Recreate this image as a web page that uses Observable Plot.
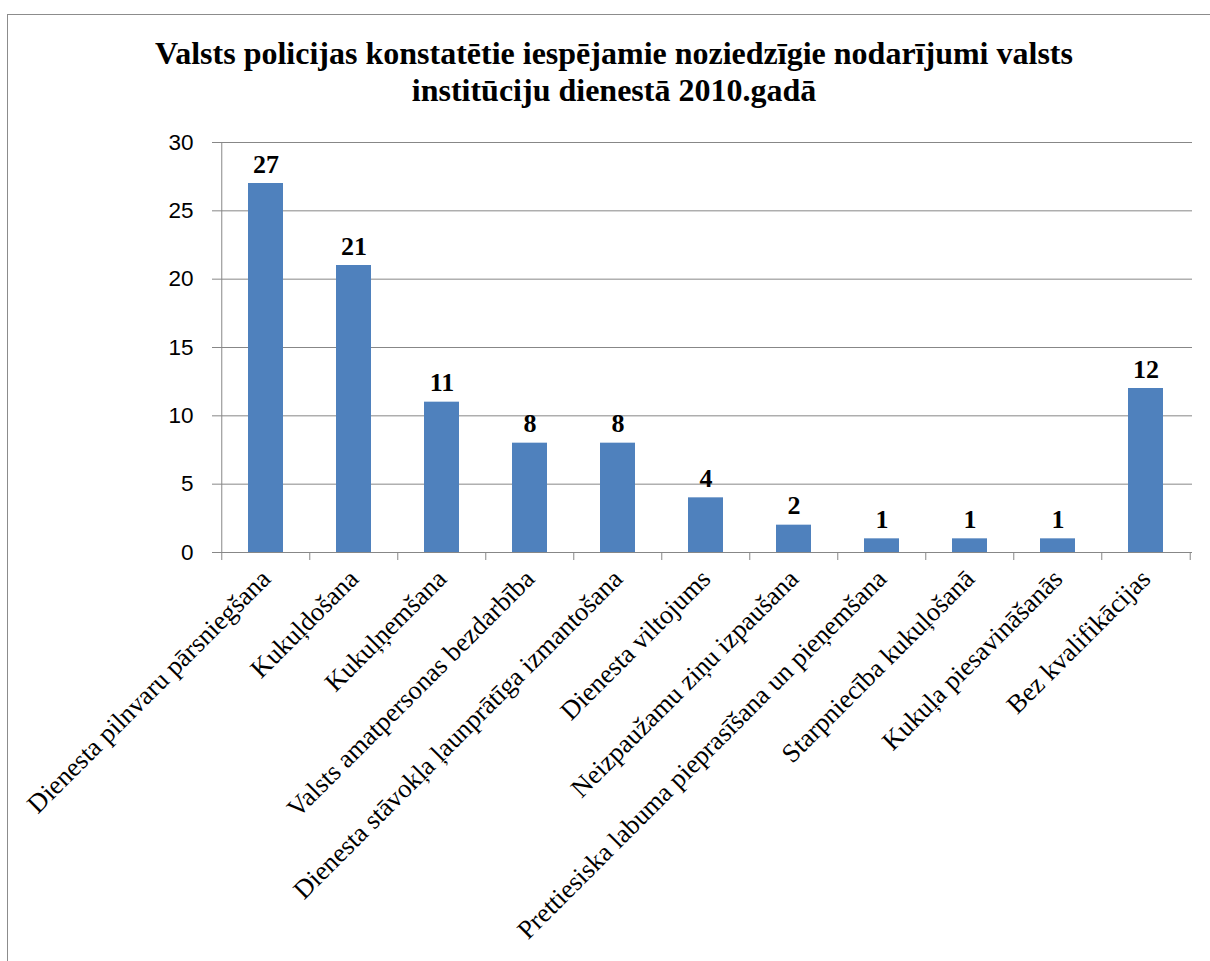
<!DOCTYPE html>
<html><head><meta charset="utf-8">
<script src="https://cdn.jsdelivr.net/npm/d3@7"></script>
<script src="https://cdn.jsdelivr.net/npm/@observablehq/plot@0.6"></script>
<style>
body{margin:0;background:#fff;}
#wrap{position:relative;width:1210px;height:961px;overflow:hidden;background:#fff;}
#border{position:absolute;left:7px;top:14px;width:1230px;height:1000px;border:1.5px solid #8c8c8c;box-sizing:border-box;}
#title{position:absolute;left:18px;width:1192px;top:35px;text-align:center;font-family:"Liberation Serif","Times New Roman",serif;font-weight:bold;font-size:32px;line-height:37px;color:#000;}
#chart{position:absolute;left:0;top:0;}
</style>
</head><body>
<div id="wrap">
  <div id="border"></div>
  <div id="title">Valsts policijas konstatētie iespējamie noziedzīgie nodarījumi valsts<br>institūciju dienestā 2010.gadā</div>
  <div id="chart"></div>
</div>
<script>
const categories = [
  "Dienesta pilnvaru pārsniegšana",
  "Kukuļdošana",
  "Kukuļņemšana",
  "Valsts amatpersonas bezdarbība",
  "Dienesta stāvokļa ļaunprātīga izmantošana",
  "Dienesta viltojums",
  "Neizpaužamu ziņu izpaušana",
  "Prettiesiska labuma pieprasīšana un pieņemšana",
  "Starpniecība kukuļošanā",
  "Kukuļa piesavināšanās",
  "Bez kvalifikācijas"
];
const values = [27, 21, 11, 8, 8, 4, 2, 1, 1, 1, 12];
const yTicks = [0, 5, 10, 15, 20, 25, 30];

const data = categories.map((c, i) => ({name: c, value: values[i]}));

const W = 1210, H = 961;
const mL = 219, mR = 18, mT = 142, mB = 409;
const step = (W - mL - mR) / categories.length;
const gray = "#878787";
const serif = "'Liberation Serif', 'Times New Roman', serif";
const sans = "'Liberation Sans', Arial, sans-serif";

const chart = Plot.plot({
  width: W, height: H,
  marginLeft: mL, marginRight: mR, marginTop: mT, marginBottom: mB,
  style: {background: "transparent", color: "#000"},
  x: {domain: categories, paddingInner: 0.6, paddingOuter: 0.3, label: null},
  y: {domain: [0, 30], label: null},
  marks: [
    Plot.gridY(yTicks, {stroke: gray, strokeOpacity: 1, strokeWidth: 1}),
    Plot.ruleX([categories[0]], {x: d => d, y1: 0, y2: 30, dx: -step / 2, stroke: gray, strokeWidth: 1}),
    Plot.ruleX(categories, {x: d => d, y1: 0, y2: 0, insetBottom: -8, dx: -step / 2, stroke: gray}),
    Plot.ruleX([categories[categories.length - 1]], {x: d => d, y1: 0, y2: 0, insetBottom: -8, dx: step / 2, stroke: gray}),
    Plot.barY(data, {x: "name", y: "value", fill: "#4F81BD"}),
    Plot.text(data, {x: "name", y: "value", text: d => String(d.value), dy: -11, lineAnchor: "bottom",
      fontFamily: serif, fontWeight: "bold", fontSize: 26, fill: "#000"}),
    Plot.axisY({ticks: yTicks, tickSize: 7, tickPadding: 19, stroke: gray, fill: "#000",
      fontFamily: sans, fontSize: 22.5, label: null}),
    Plot.axisX({tickSize: 0, tickRotate: -45, tickPadding: 22, fill: "#000",
      fontFamily: serif, fontSize: 26.5, label: null})
  ]
});
document.getElementById("chart").appendChild(chart);
</script>
</body></html>
